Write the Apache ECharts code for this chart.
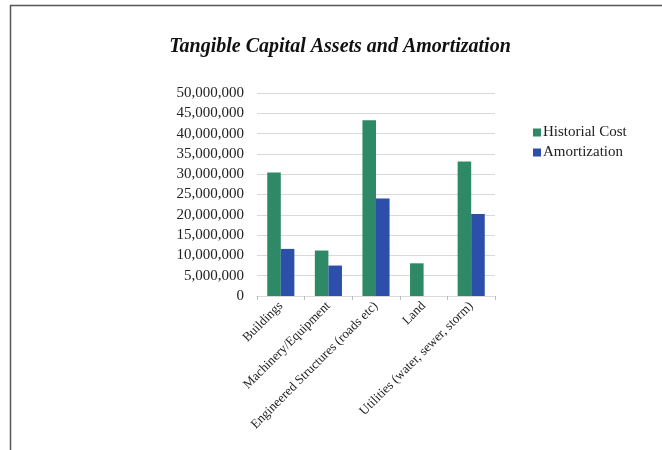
<!DOCTYPE html>
<html>
<head>
<meta charset="utf-8">
<script src="https://cdn.jsdelivr.net/npm/echarts@6/dist/echarts.min.js"></script>
<style>
  html, body { margin: 0; padding: 0; background: #fff; }
  #chart { width: 662px; height: 450px; }
</style>
</head>
<body>
<div id="chart"></div>
<script>
// Asset classes and their values (dollars)
const categories = [
  'Buildings',
  'Machinery/Equipment',
  'Engineered Structures (roads etc)',
  'Land',
  'Utilities (water, sewer, storm)'
];
const historicalCost = [30400000, 11200000, 43300000, 8050000, 33100000];
const amortization = [11600000, 7500000, 24000000, 0, 20200000];
const seriesNames = ['Historial Cost', 'Amortization'];
const yTicks = { min: 0, max: 50000000, interval: 5000000 };

const serif = '"Liberation Serif", "DejaVu Serif", serif';
const chart = echarts.init(document.getElementById('chart'));

chart.setOption({
  backgroundColor: '#ffffff',
  animation: false,
  title: {
    text: 'Tangible Capital Assets and Amortization',
    left: 335,
    textAlign: 'center',
    top: 32,
    textStyle: {
      fontFamily: serif,
      fontStyle: 'italic',
      fontWeight: 'bold',
      fontSize: 20,
      color: '#111'
    }
  },
  legend: {
    orient: 'vertical',
    left: 528,
    top: 120,
    itemWidth: 8,
    itemHeight: 8,
    itemGap: 5,
    icon: 'rect',
    data: seriesNames,
    textStyle: { fontFamily: serif, fontSize: 15, color: '#222', padding: [0, 0, 0, -3] }
  },
  grid: { left: 257, right: 167, top: 93, bottom: 154 },
  xAxis: {
    type: 'category',
    data: categories,
    axisLine: { lineStyle: { color: '#d9d9d9' } },
    axisTick: { show: true, length: 4, lineStyle: { color: '#bbbbbb' } },
    axisLabel: {
      rotate: 45,
      interval: 0,
      margin: 8,
      fontFamily: serif,
      fontSize: 13,
      color: '#222'
    }
  },
  yAxis: {
    type: 'value',
    min: yTicks.min,
    max: yTicks.max,
    interval: yTicks.interval,
    axisLine: { show: false },
    axisTick: { show: false },
    splitLine: { lineStyle: { color: '#d9d9d9' } },
    axisLabel: {
      margin: 13,
      fontFamily: serif,
      fontSize: 15,
      color: '#222',
      formatter: v => v.toLocaleString('en-US')
    }
  },
  graphic: [{
    type: 'polyline',
    shape: { points: [[10.5, 450], [10.5, 5.5], [662, 5.5]] },
    style: { stroke: '#555', lineWidth: 1.5, fill: null }
  }],
  series: [
    {
      name: seriesNames[0],
      type: 'bar',
      data: historicalCost,
      barGap: '0%',
      barCategoryGap: '43%',
      itemStyle: { color: '#2e8a66' }
    },
    {
      name: seriesNames[1],
      type: 'bar',
      data: amortization,
      itemStyle: { color: '#2b4faa' }
    }
  ]
});
</script>
</body>
</html>
